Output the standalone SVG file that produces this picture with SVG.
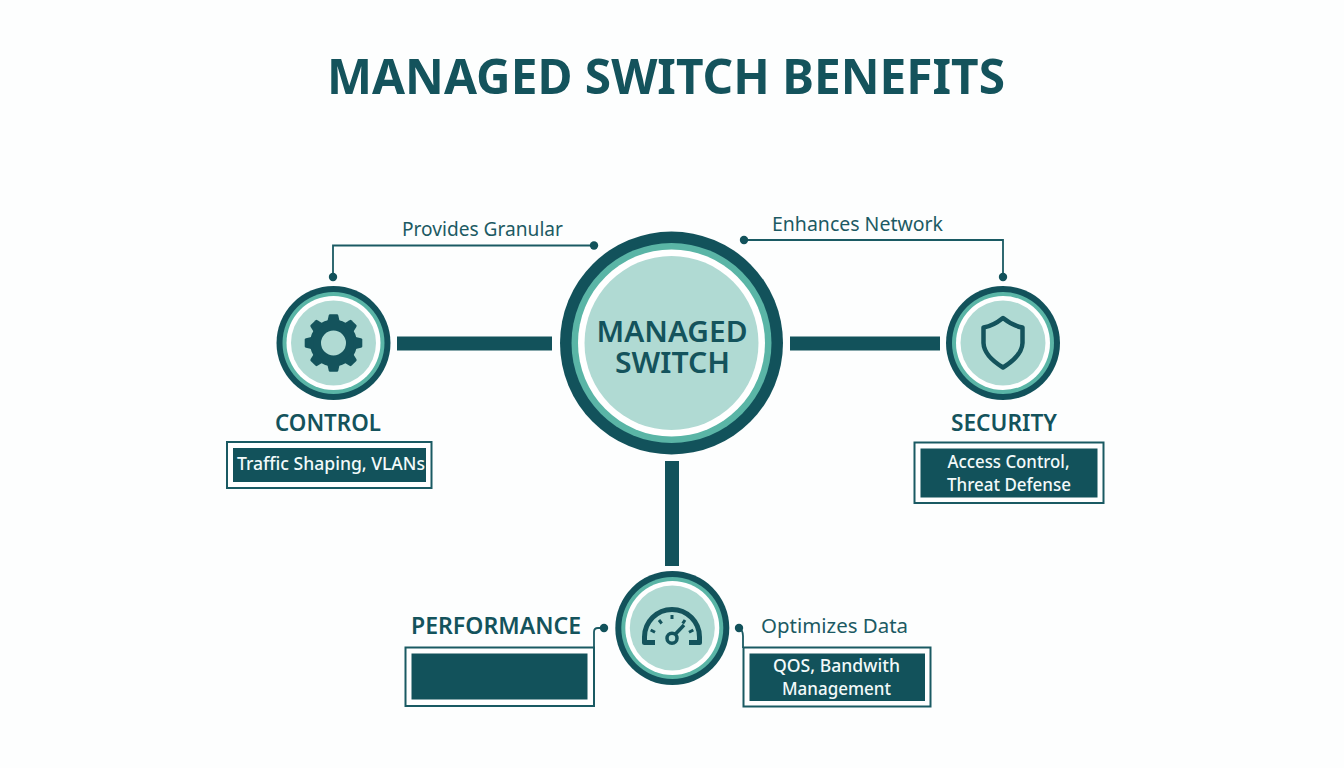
<svg xmlns="http://www.w3.org/2000/svg" width="1344" height="768" viewBox="0 0 1344 768">
<style>
text{font-family:"Noto Sans","Open Sans","DejaVu Sans",sans-serif;text-anchor:middle}
.title{font-size:49px;font-weight:700;fill:#14535c}
.hub{font-size:29.500px;font-weight:600;fill:#14535c}
.name{font-size:22.500px;font-weight:600;fill:#14535c}
.note{font-size:19px;fill:#1c5a63}
.tag{font-size:17.500px;font-weight:500;fill:#f2fafa}
.bar{fill:#12525b}
.outer{fill:#fff;stroke:#1a5a63;stroke-width:2}
.inner{fill:#12525b}
.thin{fill:none;stroke:#1a5a63;stroke-width:1.8}
.dot{fill:#12525b}
.ico{fill:none;stroke:#14535c;stroke-width:4.5;stroke-linejoin:round}
.d{fill:#12525b}.t{fill:#5ab5a6}.w{fill:#fff}.p{fill:#b0dad3}
</style>
<defs>
<g id="badge"><circle class="d" r="57"/><circle class="t" r="51"/><circle class="w" r="47"/><circle class="p" r="42.500"/></g>
<path id="tooth" d="M-6.500 -20L-4.800 -27.500Q-4.500 -28.800 -3.500 -28.800H3.500Q4.500 -28.800 4.800 -27.500L6.500 -20Z" fill="#14535c"/>
</defs>
<rect width="1344" height="768" fill="#fdfefe"/>
<text class="title" x="666" y="94" textLength="678" lengthAdjust="spacingAndGlyphs">MANAGED SWITCH BENEFITS</text>
<g id="connectors">
<rect class="bar" x="397" y="336.500" width="155" height="14"/>
<rect class="bar" x="790" y="336.500" width="150" height="14"/>
<rect class="bar" x="665" y="461" width="14" height="105"/>
<path class="thin" d="M594 245.500H333V277"/>
<circle class="dot" cx="594" cy="245.500" r="4.200"/><circle class="dot" cx="333" cy="277" r="4.200"/>
<path class="thin" d="M744 240H1003V277"/>
<circle class="dot" cx="744" cy="240" r="4.200"/><circle class="dot" cx="1003" cy="277" r="4.200"/>
<path class="thin" d="M604 628H598Q594 628 594 632V648"/>
<circle class="dot" cx="604" cy="628" r="4.200"/>
<path class="thin" d="M739 628Q743 630 743 636V648"/>
<circle class="dot" cx="739" cy="628" r="4.200"/>
</g>
<g id="node-hub">
<circle class="d" cx="671.500" cy="343" r="111.500"/><circle class="t" cx="671.500" cy="343" r="100"/><circle class="w" cx="671.500" cy="343" r="93.500"/><circle class="p" cx="671.500" cy="343" r="87"/>
<text class="hub"><tspan x="672" y="342" textLength="151" lengthAdjust="spacingAndGlyphs">MANAGED</tspan><tspan x="672.500" y="373" textLength="115" lengthAdjust="spacingAndGlyphs">SWITCH</tspan></text>
</g>
<g id="node-control">
<use href="#badge" x="333.500" y="343"/>
<g transform="translate(333.500 343)">
<circle r="18" fill="none" stroke="#14535c" stroke-width="11"/>
<use href="#tooth"/><use href="#tooth" transform="rotate(45)"/><use href="#tooth" transform="rotate(90)"/><use href="#tooth" transform="rotate(135)"/><use href="#tooth" transform="rotate(180)"/><use href="#tooth" transform="rotate(225)"/><use href="#tooth" transform="rotate(270)"/><use href="#tooth" transform="rotate(315)"/>
</g>
<text class="name" x="328" y="430.500" textLength="106" lengthAdjust="spacingAndGlyphs">CONTROL</text>
<rect class="outer" x="227" y="442" width="204.500" height="46"/>
<rect class="inner" x="233" y="448" width="193" height="34"/>
<text class="tag" x="331" y="470" textLength="188" lengthAdjust="spacingAndGlyphs">Traffic Shaping, VLANs</text>
<text class="note" x="482.500" y="236" textLength="161" lengthAdjust="spacingAndGlyphs">Provides Granular</text>
</g>
<g id="node-security">
<use href="#badge" x="1003" y="343"/>
<path class="ico" d="M1003 318Q993 326 983.500 327.500V343C984 354 994 362 1003 367.500C1012 362 1022 354 1022.500 343V327.500Q1013 326 1003 318Z"/>
<text class="name" x="1004" y="430.500" textLength="106" lengthAdjust="spacingAndGlyphs">SECURITY</text>
<rect class="outer" x="914.500" y="442.500" width="189" height="60.500"/>
<rect class="inner" x="920.500" y="448.500" width="177" height="49"/>
<text class="tag"><tspan x="1008.500" y="468" textLength="122" lengthAdjust="spacingAndGlyphs">Access Control,</tspan><tspan x="1009" y="491" textLength="124" lengthAdjust="spacingAndGlyphs">Threat Defense</tspan></text>
<text class="note" x="857.500" y="231" textLength="171" lengthAdjust="spacingAndGlyphs">Enhances Network</text>
</g>
<g id="node-performance">
<use href="#badge" x="672.300" y="628"/>
<path class="ico" stroke-linejoin="miter" d="M655 642.500H644.500V637A27.500 27.500 0 0 1 699.500 637V642.500H689" style="stroke-width:5"/>
<circle cx="672" cy="638.300" r="5" fill="none" stroke="#14535c" stroke-width="3.500"/>
<path d="M675.500 634L684 625" stroke="#14535c" stroke-width="3.500" fill="none"/>
<path d="M672 615V619M659 620L661.700 623.500M685 620L682.700 623.500M650.700 630L655 632.300M693.300 630L689 632.300" stroke="#14535c" stroke-width="3" fill="none"/>
<text class="name" x="496" y="634" textLength="170" lengthAdjust="spacingAndGlyphs">PERFORMANCE</text>
<rect class="outer" x="405.500" y="647.500" width="188.500" height="58.500"/>
<rect class="inner" x="411.500" y="653.500" width="176" height="46"/>
<text class="note" x="834.500" y="633" textLength="147" lengthAdjust="spacingAndGlyphs">Optimizes Data</text>
<rect class="outer" x="743.500" y="647.500" width="187" height="59"/>
<rect class="inner" x="749.500" y="653.500" width="175.500" height="47.500"/>
<text class="tag"><tspan x="836.500" y="672" textLength="127" lengthAdjust="spacingAndGlyphs">QOS, Bandwith</tspan><tspan x="836.500" y="695" textLength="109" lengthAdjust="spacingAndGlyphs">Management</tspan></text>
</g>
</svg>
